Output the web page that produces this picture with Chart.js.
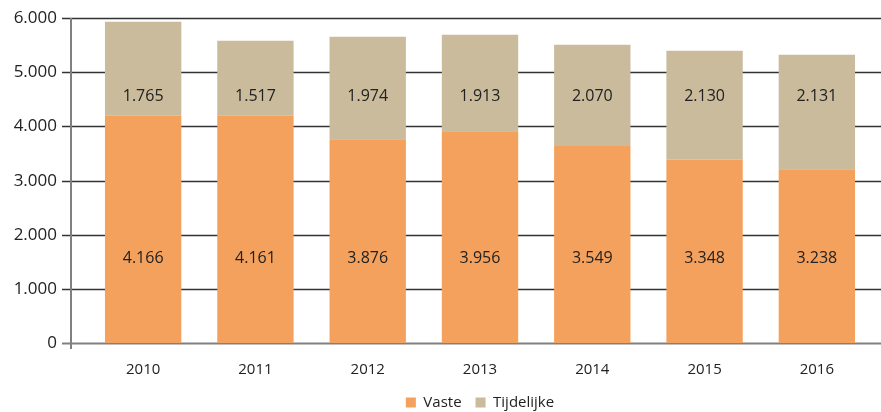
<!DOCTYPE html>
<html>
<head>
<meta charset="utf-8">
<script src="https://cdn.jsdelivr.net/npm/chart.js@4"></script>
<style>
  html, body { margin: 0; padding: 0; background: #fff; }
  #wrap { width: 881px; height: 412px; }
</style>
</head>
<body>
<div id="wrap"><canvas id="chart" width="881" height="412"></canvas></div>
<script>
const years = ['2010', '2011', '2012', '2013', '2014', '2015', '2016'];
// bar heights as drawn in the picture
const vaste = [4195, 4195, 3763, 3911, 3639, 3386, 3207];
const tijdelijke = [1736, 1384, 1890, 1779, 1866, 2008, 2113];
// numbers printed on the bars
const vasteLabels = [4166, 4161, 3876, 3956, 3549, 3348, 3238];
const tijdelijkeLabels = [1765, 1517, 1974, 1913, 2070, 2130, 2131];
const yTicks = [0, 1000, 2000, 3000, 4000, 5000, 6000];

const FONT = '"Open Sans", sans-serif';
const fmt = v => v.toLocaleString('de-DE');

// grid, axis and y tick labels are drawn by hand so they can reach past the bars
const axisPlugin = {
  id: 'axisPlugin',
  beforeDatasetsDraw(chart) {
    const { ctx, scales: { y } } = chart;
    const axisX = 71;
    ctx.save();
    ctx.font = '17px ' + FONT;
    ctx.fillStyle = '#222';
    ctx.textAlign = 'right';
    ctx.textBaseline = 'middle';
    yTicks.forEach(t => {
      const py = Math.round(y.getPixelForValue(t)) + 0.5;
      ctx.beginPath();
      ctx.strokeStyle = t === 0 ? '#808080' : '#333';
      ctx.lineWidth = t === 0 ? 2 : 1.3;
      ctx.moveTo(62, py);
      ctx.lineTo(chart.width, py);
      ctx.stroke();
      ctx.fillText(fmt(t), 57, py);
    });
    ctx.beginPath();
    ctx.strokeStyle = '#808080';
    ctx.lineWidth = 2;
    ctx.moveTo(axisX, y.getPixelForValue(6000));
    ctx.lineTo(axisX, y.getPixelForValue(0) + 6);
    ctx.stroke();
    ctx.restore();
  },
  afterDatasetsDraw(chart) {
    const { ctx, scales: { x, y } } = chart;
    ctx.save();
    ctx.font = '16px ' + FONT;
    ctx.fillStyle = '#222';
    ctx.textAlign = 'center';
    ctx.textBaseline = 'middle';
    years.forEach((yr, i) => {
      const px = x.getPixelForValue(i);
      ctx.fillText(fmt(vasteLabels[i]), px, y.getPixelForValue(1557));
      ctx.fillText(fmt(tijdelijkeLabels[i]), px, y.getPixelForValue(4550));
    });
    ctx.restore();
  }
};

new Chart(document.getElementById('chart'), {
  type: 'bar',
  data: {
    labels: years,
    datasets: [
      { label: 'Vaste', data: vaste, backgroundColor: '#F4A15D' },
      { label: 'Tijdelijke', data: tijdelijke, backgroundColor: '#C9BB9B' }
    ]
  },
  options: {
    responsive: false,
    animation: false,
    layout: { padding: { left: 87, right: 8, top: 18, bottom: -8 } },
    datasets: { bar: { categoryPercentage: 1, barPercentage: 0.68 } },
    scales: {
      x: {
        stacked: true,
        grid: { display: false, drawTicks: false },
        border: { display: false },
        ticks: { color: '#222', font: { family: FONT, size: 15 }, padding: 18 },
        afterFit: s => { s.height -= 16; }
      },
      y: {
        stacked: true,
        display: false,
        min: 0,
        max: 6000
      }
    },
    plugins: {
      legend: {
        position: 'bottom',
        labels: {
          color: '#222',
          font: { family: FONT, size: 15 },
          boxWidth: 10,
          boxHeight: 10,
          padding: 14
        }
      },
      tooltip: { enabled: false }
    }
  },
  plugins: [axisPlugin]
});
</script>
</body>
</html>
